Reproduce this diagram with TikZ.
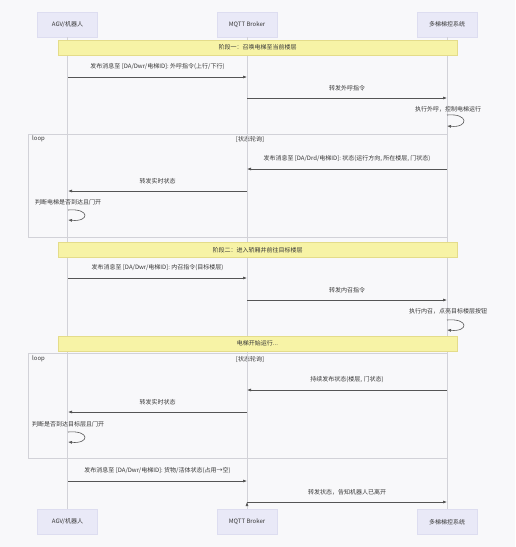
\documentclass[tikz,border=0pt]{standalone}
\usepackage{fontspec}
\setmainfont{Noto Sans CJK SC}
\usetikzlibrary{arrows.meta}
\definecolor{actorfill}{HTML}{E9E9F7}
\definecolor{actorline}{HTML}{DDDDF0}
\definecolor{notefill}{HTML}{F7F3A6}
\definecolor{noteline}{HTML}{E4DC8A}
\definecolor{msgline}{HTML}{555555}
\definecolor{lifeline}{HTML}{D2D2D8}
\definecolor{paper}{HTML}{F8F8FA}
\definecolor{ink}{HTML}{383838}

\begin{document}
\begin{tikzpicture}[x=1pt, y=-1pt,
  actor/.style={fill=actorfill, draw=actorline, minimum width=60pt, minimum height=25pt,
    inner sep=0pt, text=ink, font=\fontsize{6}{7}\selectfont},
  phase/.style={fill=notefill, draw=noteline, minimum width=399pt, minimum height=15pt,
    inner sep=0pt, text=ink, font=\fontsize{6}{7}\selectfont},
  frame/.style={draw=lifeline, line width=0.5pt},
  life/.style={draw=lifeline, line width=0.5pt},
  msg/.style={draw=msgline, line width=0.6pt, -{Latex[length=4pt,width=3pt]}},
  lbl/.style={text=ink, font=\fontsize{6}{7}\selectfont, inner sep=0pt},
]
\fill[paper] (0,0) rectangle (515,547);

% loop frames
\draw[frame] (28,134) rectangle (447,237);
\node[lbl, anchor=west] (loopa) at (32,139) {loop};
\node[lbl] (conda) at (250,139) {[状态轮询]};
\draw[frame] (28,353) rectangle (447,458);
\node[lbl, anchor=west] (loopb) at (32,359) {loop};
\node[lbl] (condb) at (250,359) {[状态轮询]};

% participants
\node[actor] (agv) at (67.5,24.5) {AGV/机器人};
\node[actor] (mqtt) at (247,24.5) {MQTT Broker};
\node[actor] (ctrl) at (447,24.5) {多梯梯控系统};
\node[actor] (agvb) at (67.5,522) {AGV/机器人};
\node[actor] (mqttb) at (247,522) {MQTT Broker};
\node[actor] (ctrlb) at (447,522) {多梯梯控系统};
\draw[life] (agv) -- (agvb);
\draw[life] (mqtt) -- (mqttb);
\draw[life] (ctrl) -- (ctrlb);

% points on the lifelines
\foreach \n/\y in {1/77, 2/98, 3/115, 3b/126, 4/169, 5/191, 6/210, 6b/220,
  7/278, 8/300, 9/320, 9b/330, 10/390, 11/412, 12/432, 12b/442, 13/481, 14/502}
{
  \coordinate (A\n) at (68,\y);
  \coordinate (B\n) at (247,\y);
  \coordinate (C\n) at (447,\y);
}

% phase notes
\node[phase] (phase1) at (257.5,47.5) {阶段一：召唤电梯至当前楼层};
\node[phase] (phase2) at (257.5,250) {阶段二：进入轿厢并前往目标楼层};
\node[phase] (phase3) at (257.5,343.5) {电梯开始运行...};

% messages
\path[msg]
(A1) edge node[lbl, above=7pt]{发布消息至 [DA/Dwr/电梯ID]: 外呼指令(上行/下行)} (B1)
(B2) edge node[lbl, above=7pt]{转发外呼指令} (C2)
(C4) edge node[lbl, above=7pt]{发布消息至 [DA/Drd/电梯ID]: 状态(运行方向, 所在楼层, 门状态)} (B4)
(B5) edge node[lbl, above=7pt]{转发实时状态} (A5)
(A7) edge node[lbl, above=7pt]{发布消息至 [DA/Dwr/电梯ID]: 内召指令(目标楼层)} (B7)
(B8) edge node[lbl, above=7pt]{转发内召指令} (C8)
(C10) edge node[lbl, above=7pt]{持续发布状态(楼层, 门状态)} (B10)
(B11) edge node[lbl, above=7pt]{转发实时状态} (A11)
(A13) edge node[lbl, above=7pt]{发布消息至 [DA/Dwr/电梯ID]: 货物/活体状态(占用→空)} (B13)
(B14) edge node[lbl, above=7pt]{转发状态，告知机器人已离开} (C14);

% self messages
\node[lbl] (selfa) at (448,109) {执行外呼，控制电梯运行};
\draw[msg] (C3) .. controls +(22,-2) and +(22,2) .. (C3b);
\node[lbl] (selfb) at (68,202) {判断电梯是否到达且门开};
\draw[msg] (A6) .. controls +(22,-2) and +(22,2) .. (A6b);
\node[lbl] (selfc) at (448,311) {执行内召，点亮目标楼层按钮};
\draw[msg] (C9) .. controls +(22,-2) and +(22,2) .. (C9b);
\node[lbl] (selfd) at (68,424) {判断是否到达目标层且门开};
\draw[msg] (A12) .. controls +(22,-2) and +(22,2) .. (A12b);
\end{tikzpicture}
\end{document}
